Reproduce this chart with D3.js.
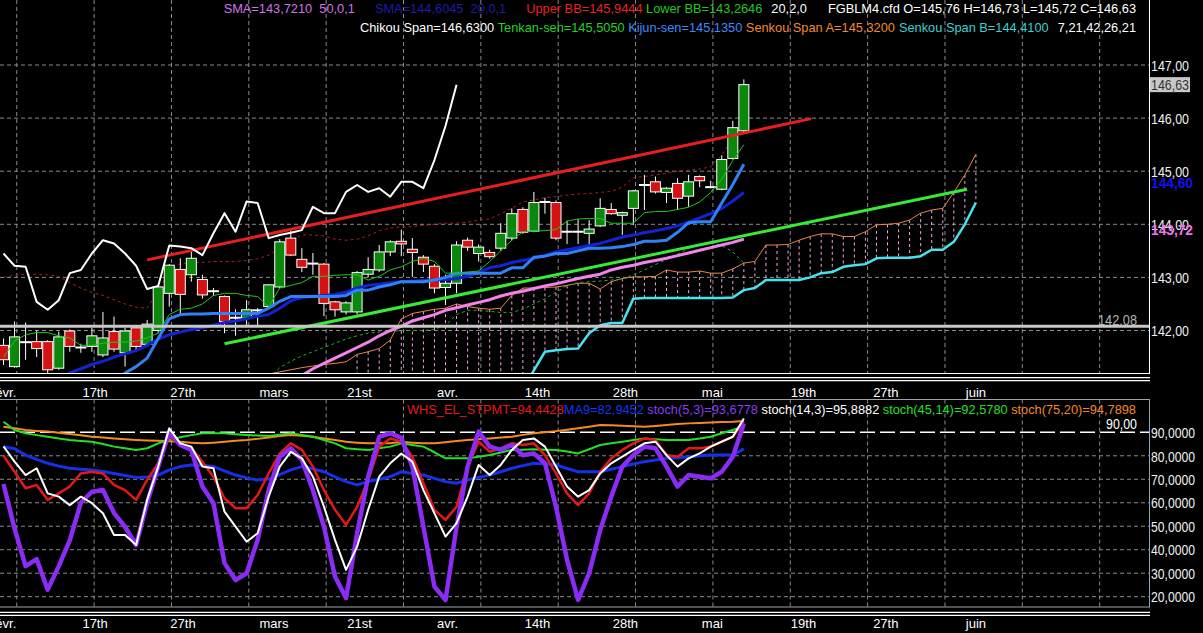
<!DOCTYPE html>
<html>
<head>
<meta charset="utf-8">
<script src="https://cdn.jsdelivr.net/npm/d3@7"></script>
<style>
html, body { margin: 0; padding: 0; background: #000; overflow: hidden; }
svg { display: block; }
text { font-family: "Liberation Sans", Arial, sans-serif; }
</style>
</head>
<body>
<div id="chart"></div>
<script>
const svgwidth = 1203;
const svgheight = 633;

// date labels under both panels (position in bar units)
const dateLabels = ["févr.", "17th", "27th", "mars", "21st", "avr.", "14th", "28th", "mai", "19th", "27th", "juin"];
const dateIdx = [0, 8.24, 16.2, 24.43, 32.17, 40.14, 48.28, 56.24, 64.1, 72.35, 79.8, 87.96];

const priceTicks = [142, 143, 144, 145, 146, 147];
const oscTicks = [20, 30, 40, 50, 60, 70, 80, 90];

// candles
const opens = [141.72, 141.32, 141.80, 141.79, 141.79, 141.29, 141.99, 141.66, 141.70, 141.54,
  141.98, 141.58, 142.05, 141.74, 142.00, 142.70, 143.15, 143.05, 142.96, 142.72,
  142.64, 142.22, 142.23, 142.36, 142.45, 142.82, 143.74, 143.34, 143.24, 143.25,
  142.54, 142.35, 142.35, 143.06, 143.14, 143.48, 143.68, 143.53, 143.38, 143.21,
  142.81, 142.89, 143.70, 143.45, 143.47, 143.55, 143.74, 144.28, 143.87, 144.40,
  144.41, 143.85, 143.85, 143.83, 143.97, 144.28, 144.17, 144.30, 144.73, 144.80,
  144.60, 144.77, 144.53, 144.90, 144.69, 144.66, 145.24, 145.76];
const highs = [141.85, 142.17, 142.15, 142.00, 141.82, 141.98, 142.02, 141.75, 142.05, 142.35,
  142.26, 142.05, 142.10, 142.20, 142.85, 143.25, 143.36, 143.52, 143.05, 142.80,
  142.66, 142.40, 142.57, 142.42, 142.87, 143.72, 143.93, 143.55, 143.46, 143.27,
  142.56, 142.55, 143.12, 143.38, 143.61, 143.70, 143.90, 143.74, 143.42, 143.25,
  143.05, 143.68, 143.75, 143.62, 143.52, 144.02, 144.30, 144.32, 144.61, 144.50,
  144.45, 144.07, 144.10, 144.08, 144.49, 144.40, 144.24, 144.65, 144.93, 144.90,
  144.70, 144.87, 144.93, 144.92, 144.82, 145.30, 145.95, 146.73];
const lows = [141.35, 141.30, 141.45, 141.50, 141.20, 141.26, 141.60, 141.58, 141.60, 141.50,
  141.60, 141.32, 141.60, 141.70, 141.95, 142.45, 142.30, 142.92, 142.60, 142.65,
  141.95, 141.90, 142.10, 142.10, 142.42, 142.80, 143.40, 143.10, 143.05, 142.27,
  142.26, 142.30, 142.30, 143.00, 143.10, 143.40, 143.40, 143.01, 143.10, 142.70,
  142.48, 142.70, 143.50, 143.30, 143.35, 143.50, 143.70, 143.82, 143.85, 144.20,
  143.70, 143.63, 143.63, 143.62, 143.95, 144.18, 143.80, 143.99, 144.27, 144.58,
  144.40, 144.27, 144.33, 144.70, 144.68, 144.64, 145.22, 145.72];
const closes = [141.45, 141.88, 141.78, 141.66, 141.26, 141.88, 141.70, 141.68, 141.90, 141.86,
  141.65, 141.99, 141.70, 142.12, 142.82, 143.23, 142.68, 143.36, 142.67, 142.74,
  142.17, 142.24, 142.39, 142.38, 142.86, 143.67, 143.42, 143.19, 143.26, 142.51,
  142.39, 142.52, 143.09, 143.15, 143.48, 143.67, 143.63, 143.47, 143.25, 142.80,
  142.89, 143.61, 143.57, 143.57, 143.39, 143.83, 144.20, 143.85, 144.41, 144.42,
  143.74, 143.86, 143.86, 143.91, 144.30, 144.20, 144.22, 144.63, 144.74, 144.61,
  144.68, 144.49, 144.80, 144.82, 144.70, 145.22, 145.82, 146.63];

// moving averages / bands
const sma20 = [null, null, null, null, null, 141.05, 141.20, 141.28, 141.36, 141.42,
  141.50, 141.56, 141.62, 141.72, 141.84, 141.92, 141.97, 142.02, 142.05, 142.10,
  142.15, 142.18, 142.22, 142.27, 142.30, 142.42, 142.56, 142.62, 142.64, 142.66,
  142.68, 142.72, 142.80, 142.85, 142.87, 142.90, 142.92, 142.93, 142.94, 142.95,
  142.96, 142.98, 143.02, 143.10, 143.18, 143.22, 143.28, 143.32, 143.36, 143.42,
  143.48, 143.52, 143.56, 143.60, 143.64, 143.70, 143.76, 143.80, 143.84, 143.88,
  143.92, 143.97, 144.04, 144.12, 144.20, 144.30, 144.44, 144.60];
const sma50 = [null, null, null, null, null, null, null, null, null, null,
  null, null, null, null, null, null, null, null, null, null,
  null, null, null, null, null, null, 141.00, 141.15, 141.28, 141.38,
  141.48, 141.58, 141.68, 141.78, 141.90, 142.00, 142.08, 142.18, 142.24, 142.30,
  142.38, 142.43, 142.48, 142.53, 142.58, 142.65, 142.70, 142.74, 142.79, 142.84,
  142.88, 142.93, 142.98, 143.02, 143.06, 143.14, 143.19, 143.23, 143.28, 143.32,
  143.36, 143.41, 143.46, 143.51, 143.56, 143.61, 143.66, 143.72];
const upperBB = [143.00, 143.04, 143.06, 143.06, 143.05, 143.02, 142.90, 142.80, 142.72, 142.66,
  142.58, 142.50, 142.44, 142.42, 142.75, 143.10, 143.26, 143.28, 143.28, 143.30,
  143.30, 143.30, 143.32, 143.35, 143.42, 143.55, 143.70, 143.80, 143.80, 143.78,
  143.72, 143.70, 143.72, 143.78, 143.88, 143.93, 143.95, 143.96, 143.98, 144.00,
  144.02, 144.02, 144.04, 144.08, 144.10, 144.20, 144.30, 144.42, 144.46, 144.50,
  144.52, 144.55, 144.57, 144.58, 144.60, 144.62, 144.70, 144.88, 144.90, 144.93,
  144.96, 145.00, 145.02, 145.04, 145.08, 145.30, 145.62, 145.94];
const lowerBB = [null, null, null, null, null, null, null, null, null, null,
  null, null, null, null, null, null, null, null, null, null,
  null, null, null, null, 141.10, 141.30, 141.42, 141.52, 141.60, 141.68,
  141.76, 141.84, 141.90, 141.95, 141.97, 141.98, 142.00, 142.00, 142.00, 142.02,
  142.10, 142.30, 142.38, 142.38, 142.36, 142.34, 142.34, 142.40, 142.50, 142.60,
  142.72, 142.85, 142.90, 142.92, 142.93, 142.95, 142.97, 143.05, 143.14, 143.24,
  143.34, 143.44, 143.54, 143.62, 143.65, 143.60, 143.48, 143.27];

// ichimoku
const tenkan = [141.50, 141.80, 141.92, 141.96, 141.96, 141.90, 141.86, 141.72, 141.72, 141.76,
  141.78, 141.78, 141.80, 141.86, 141.95, 142.30, 142.40, 142.42, 142.50, 142.66,
  142.70, 142.70, 142.66, 142.64, 142.45, 142.80, 142.85, 142.90, 143.02, 143.02,
  143.04, 143.05, 143.05, 142.95, 143.02, 143.14, 143.20, 143.30, 143.36, 143.30,
  143.08, 143.08, 143.10, 143.12, 143.30, 143.50, 143.70, 143.86, 143.87, 143.88,
  143.90, 144.06, 144.10, 144.11, 144.11, 144.02, 144.02, 144.02, 144.22, 144.24,
  144.24, 144.28, 144.32, 144.42, 144.60, 144.85, 145.20, 145.50];
const kijun = [null, null, null, null, null, null, null, null, null, null,
  141.00, 141.20, 141.32, 141.48, 141.85, 142.22, 142.30, 142.31, 142.31, 142.32,
  142.32, 142.32, 142.32, 142.32, 142.42, 142.55, 142.64, 142.64, 142.64, 142.64,
  142.64, 142.66, 142.76, 142.76, 142.82, 142.86, 142.92, 142.92, 142.92, 142.95,
  143.00, 143.08, 143.08, 143.08, 143.08, 143.08, 143.18, 143.18, 143.38, 143.40,
  143.45, 143.45, 143.50, 143.55, 143.55, 143.56, 143.58, 143.62, 143.68, 143.68,
  143.70, 143.85, 144.03, 144.05, 144.05, 144.40, 144.75, 145.13];
const chikou = [143.45, 143.22, 143.20, 142.54, 142.39, 142.57, 143.08, 143.14, 143.45, 143.70,
  143.64, 143.45, 143.22, 142.78, 142.84, 143.60, 143.58, 143.55, 143.42, 143.83,
  144.21, 143.86, 144.43, 144.40, 143.74, 143.80, 143.84, 143.89, 144.33, 144.21,
  144.21, 144.61, 144.74, 144.61, 144.68, 144.52, 144.80, 144.80, 144.68, 145.21,
  145.85, 146.63];
const senkouA = [null, null, null, null, null, null, null, null, null, null,
  null, null, null, null, null, null, null, null, null, null,
  null, null, null, 141.05, 141.18, 141.22, 141.26, 141.30, 141.33, 141.36,
  141.38, 141.41, 141.55, 141.60, 141.66, 141.82, 142.22, 142.32, 142.36, 142.40,
  142.42, 142.50, 142.45, 142.42, 142.40, 142.42, 142.66, 142.80, 142.80, 142.81,
  142.82, 142.85, 142.89, 142.89, 142.78, 142.92, 142.98, 143.01, 143.01, 143.02,
  143.14, 143.10, 143.10, 143.12, 143.08, 143.08, 143.16, 143.27, 143.30, 143.61,
  143.61, 143.62, 143.70, 143.77, 143.82, 143.82, 143.77, 143.77, 143.86, 143.99,
  144.00, 144.02, 144.08, 144.21, 144.27, 144.30, 144.60, 144.93, 145.32];
const senkouB = [null, null, null, null, null, null, null, null, null, null,
  null, null, null, null, null, null, null, null, null, null,
  null, null, null, null, null, null, null, null, null, null,
  null, null, null, null, null, null, null, null, null, null,
  null, null, null, null, null, null, null, 140.90, 141.25, 141.60,
  141.63, 141.65, 141.66, 141.95, 142.10, 142.14, 142.14, 142.60, 142.61, 142.61,
  142.61, 142.61, 142.61, 142.61, 142.61, 142.61, 142.62, 142.76, 142.80, 142.95,
  142.95, 142.95, 142.95, 143.00, 143.08, 143.10, 143.20, 143.23, 143.25, 143.36,
  143.37, 143.37, 143.37, 143.40, 143.52, 143.52, 143.67, 144.00, 144.41];

// hand drawn trend lines (bar, price)
const redTrend = [[13, 143.33], [73.1, 145.99]];
const greenTrend = [[20, 141.75], [87.2, 144.66]];
const supportLevel = 142.08;

// oscillator panel
const whs = [80, 73.2, 66.2, 67.6, 61.2, 64, 66.9, 72.5, 73.2, 72.5,
  67.6, 65.4, 61.2, 69.7, 76.8, 88.1, 84.6, 83.2, 77.5, 71.1,
  61.9, 57.7, 57.7, 63.3, 72.5, 81, 85.3, 82.5, 75.4, 65.4,
  57, 50.6, 58.3, 69.7, 83.9, 87.4, 86, 79.6, 68.3, 57,
  52.7, 58.3, 75.4, 86, 81.7, 83.2, 85.3, 84.6, 85.3, 80.3,
  72.5, 64, 59, 64, 73.2, 78.9, 82.5, 85.3, 87.4, 86.7,
  80.3, 79.6, 83.2, 83.2, 83.9, 86, 88.1, 94.4];
const ma9 = [83.9, 83, 80.3, 78.5, 76.8, 75.6, 74.7, 74.3, 74, 73.3,
  72.5, 71.6, 70.8, 71, 71.8, 74, 75.4, 76.1, 76, 75.4,
  73.6, 71.8, 70.6, 69.7, 70.1, 72, 74, 75.4, 74.5, 73.2,
  71, 69, 67.6, 69, 70, 71.1, 73.2, 72.5, 71.8, 70.4,
  69, 68.3, 69.7, 70.8, 71.8, 73.2, 74.7, 75.8, 76.8, 76.5,
  76.1, 74.6, 73.2, 73.2, 73.2, 74.3, 75.4, 76.5, 77.5, 78.2,
  78.9, 79.2, 79.6, 80, 80.3, 80.3, 80.3, 83];
const stoch53 = [68, 49, 33, 36, 23, 33, 44, 60, 64.7, 65.4,
  55.6, 49.8, 42, 60, 75.4, 90.3, 84.6, 82.5, 66.9, 59.8,
  34.3, 27.1, 30, 44.2, 65.4, 79.6, 83.2, 78.2, 65.4, 49.8,
  28.6, 19.4, 47, 71, 88.1, 89.6, 87.6, 75.4, 49.8, 24.3,
  18.6, 49.8, 75.4, 90.3, 83.9, 82.5, 84.6, 80.3, 81, 76.8,
  58.3, 35.7, 18.6, 30, 48.4, 62.6, 75.4, 80.3, 83.9, 83.2,
  75.4, 66.9, 71.8, 71.1, 70.4, 73.2, 79.6, 93.7];
const stoch143 = [84, 77.5, 71.8, 74.7, 64, 62.6, 59, 62.6, 59.8, 55.5,
  46.3, 46.3, 42, 61.2, 75.4, 91.7, 85.3, 83.9, 75.4, 74.7,
  56.2, 49.8, 43.4, 47, 62.6, 75.4, 81.7, 78.9, 71.1, 58.3,
  44.2, 31.4, 41.3, 57, 71.1, 76.8, 81, 77.5, 65.4, 55.5,
  45.6, 51.3, 62.6, 76.1, 71.8, 76.1, 82.5, 86.7, 87.4, 83.9,
  75.4, 66.9, 62.6, 65.4, 72.5, 76.8, 79.6, 82.5, 85.3, 86,
  80.3, 75.4, 78.9, 81, 83.9, 86, 88.1, 95.9];
const stoch4514 = [94.5, 91, 89.6, 88.8, 88.1, 87.4, 86.7, 86.3, 86, 85,
  83.9, 83.2, 82.5, 83.2, 85.3, 86.7, 87.9, 88.8, 89.6, 89.6,
  89.6, 89.2, 88.9, 88.6, 88.4, 89, 89.6, 88.9, 88.1, 86.7,
  85.3, 83.2, 82.8, 82.5, 83.2, 83.9, 85.3, 84.6, 83.9, 81.5,
  78.9, 78.9, 78.9, 79.6, 80.3, 81.4, 82.5, 82.6, 82.8, 82.6,
  82.5, 81.8, 81, 82.8, 84.6, 85.3, 86, 86.7, 87.4, 87,
  86.7, 86.7, 86.7, 87.4, 88.1, 89.6, 91, 92.6];
const stoch7520 = [92.4, 91.7, 91, 90.6, 90.3, 89.8, 89.3, 88.7, 88.1, 87.8,
  87.4, 87, 86.7, 86.5, 86.4, 86.2, 86, 85.6, 85.3, 85.6,
  86, 86.4, 86.7, 87.2, 87.8, 88.4, 88.9, 88.5, 88.1, 87.4,
  86.7, 86, 85.6, 85.3, 85.3, 85.3, 86, 85.6, 85.3, 85.3,
  85.8, 86.3, 86.7, 87, 87.4, 87.8, 88.1, 88.9, 89.6, 90,
  90.5, 91.1, 91.7, 92.4, 93.1, 93, 92.8, 92.6, 92.4, 92.7,
  93.1, 93.5, 93.8, 94, 94.2, 94.4, 94.5, 94.8];
const oscLevel = 90;

// legends
const legendTop1 = [
  {text: "SMA=143,7210  50,0,1", color: "#d473e6", gap: 0},
  {text: "SMA=144,6045  20,0,1", color: "#1c1ca8", gap: 20},
  {text: "Upper BB=145,9444", color: "#e82020", gap: 20},
  {text: "Lower BB=143,2646", color: "#22c822", gap: 3.5},
  {text: "20,2,0", color: "#ffffff", gap: 9},
  {text: "FGBLM4.cfd O=145,76 H=146,73 L=145,72 C=146,63", color: "#ffffff", gap: 21}
];
const legendTop2 = [
  {text: "Chikou Span=146,6300", color: "#ffffff", gap: 0},
  {text: "Tenkan-sen=145,5050", color: "#22d422", gap: 3.5},
  {text: "Kijun-sen=145,1350", color: "#3a8cff", gap: 3.5},
  {text: "Senkou Span A=145,3200", color: "#f08a30", gap: 3.5},
  {text: "Senkou Span B=144,4100", color: "#38d0d0", gap: 4},
  {text: "7,21,42,26,21", color: "#ffffff", gap: 9}
];
const legendOsc = [
  {text: "WHS_EL_STPMT=94,4428", color: "#e41818", gap: 0},
  {text: "MA9=82,9452", color: "#1434f0", gap: 0},
  {text: "stoch(5,3)=93,6778", color: "#8a3cf0", gap: 3.5},
  {text: "stoch(14,3)=95,8882", color: "#ffffff", gap: 3.5},
  {text: "stoch(45,14)=92,5780", color: "#22e022", gap: 3.5},
  {text: "stoch(75,20)=94,7898", color: "#f08a20", gap: 3.5}
];

// ---------- layout ----------
const plotRight = 1149;
const mainTop = 0, mainBottom = 373;
const oscTop = 399.5, oscBottom = 607;

const svg = d3.select("#chart").append("svg")
  .attr("width", svgwidth)
  .attr("height", svgheight);

const defs = svg.append("defs");
defs.append("clipPath").attr("id", "clipMain").append("rect")
  .attr("x", 0).attr("y", mainTop).attr("width", plotRight).attr("height", mainBottom - mainTop);
defs.append("clipPath").attr("id", "clipOsc").append("rect")
  .attr("x", 0).attr("y", oscTop).attr("width", plotRight).attr("height", oscBottom - oscTop);

// bar index -> pixel
const x = d3.scaleLinear().domain([0, 100]).range([3.5, 3.5 + 1105]);
const y = d3.scaleLinear().domain([142, 147]).range([330.5, 65]);
const yo = d3.scaleLinear().domain([20, 90]).range([596.7, 432.3]);

const comma = (v, n) => v.toFixed(n).replace(".", ",");
const gridIdx = d3.range(15).map(k => 1.2 + 7 * k);
const gridColor = "#8a8a8a";

const main = svg.append("g").attr("clip-path", "url(#clipMain)");
const osc = svg.append("g").attr("clip-path", "url(#clipOsc)");

// grid
main.selectAll(".vg").data(gridIdx).enter().append("line")
  .attr("x1", d => x(d)).attr("x2", d => x(d))
  .attr("y1", mainTop).attr("y2", mainBottom)
  .attr("stroke", gridColor).attr("stroke-dasharray", "4,3");
main.selectAll(".hg").data(priceTicks).enter().append("line")
  .attr("x1", 0).attr("x2", plotRight)
  .attr("y1", d => y(d)).attr("y2", d => y(d))
  .attr("stroke", gridColor).attr("stroke-dasharray", "4,3");
osc.selectAll(".vg").data(gridIdx).enter().append("line")
  .attr("x1", d => x(d)).attr("x2", d => x(d))
  .attr("y1", oscTop).attr("y2", oscBottom)
  .attr("stroke", gridColor).attr("stroke-dasharray", "4,3");
osc.selectAll(".hg").data(oscTicks.filter(d => d !== oscLevel)).enter().append("line")
  .attr("x1", 0).attr("x2", plotRight)
  .attr("y1", d => yo(d)).attr("y2", d => yo(d))
  .attr("stroke", gridColor).attr("stroke-dasharray", "4,3");

// line helpers
function drawLine(g, values, scaleY, color, width, dash) {
  const line = d3.line()
    .defined(d => d != null)
    .x((d, i) => x(i))
    .y(d => scaleY(d));
  const p = g.append("path").datum(values)
    .attr("d", line)
    .attr("fill", "none")
    .attr("stroke", color)
    .attr("stroke-width", width)
    .attr("stroke-linejoin", "round");
  if (dash) p.attr("stroke-dasharray", dash);
  return p;
}

// cloud hatching
const cloudIdx = d3.range(32, senkouA.length).filter(i => senkouA[i] != null);
main.selectAll(".cloud").data(cloudIdx).enter().append("line")
  .attr("x1", i => x(i)).attr("x2", i => x(i))
  .attr("y1", i => y(senkouA[i]))
  .attr("y2", i => senkouB[i] == null ? mainBottom : Math.min(y(senkouB[i]), mainBottom))
  .attr("stroke", "#f5a3e4").attr("stroke-dasharray", "3,3");

drawLine(main, senkouA, y, "#e8854a", 1);
drawLine(main, senkouB, y, "#45e3f0", 2.5);
drawLine(main, upperBB, y, "#b01c1c", 1, "3,3");
drawLine(main, lowerBB, y, "#22b022", 1, "3,3");

// candles
const bars = d3.range(closes.length).map(i => ({i: i, o: opens[i], h: highs[i], l: lows[i], c: closes[i]}));
const bw = 10;
const cg = main.append("g");
cg.selectAll(".wick").data(bars).enter().append("line")
  .attr("x1", d => x(d.i)).attr("x2", d => x(d.i))
  .attr("y1", d => y(d.h)).attr("y2", d => y(d.l))
  .attr("stroke", "#ffffff").attr("stroke-width", 1);
cg.selectAll(".body").data(bars.filter(d => Math.abs(d.o - d.c) > 0.03)).enter().append("rect")
  .attr("x", d => x(d.i) - bw / 2)
  .attr("y", d => y(Math.max(d.o, d.c)))
  .attr("width", bw)
  .attr("height", d => Math.abs(y(d.o) - y(d.c)))
  .attr("fill", d => d.c > d.o ? "#0b870b" : "#d41212")
  .attr("stroke", "#ffffff").attr("stroke-width", 1);
cg.selectAll(".doji").data(bars.filter(d => Math.abs(d.o - d.c) <= 0.03)).enter().append("line")
  .attr("x1", d => x(d.i) - bw / 2 - 0.5).attr("x2", d => x(d.i) + bw / 2 + 0.5)
  .attr("y1", d => y(d.c)).attr("y2", d => y(d.c))
  .attr("stroke", "#ffffff").attr("stroke-width", 2);

drawLine(main, sma50, y, "#f283ea", 3);
drawLine(main, sma20, y, "#1422d2", 3);
drawLine(main, kijun, y, "#2f82f5", 3);
drawLine(main, tenkan, y, "#22c422", 1);

// trend lines
[[redTrend, "#e61e1e"], [greenTrend, "#36ea36"]].forEach(([pts, col]) => {
  main.append("line")
    .attr("x1", x(pts[0][0])).attr("y1", y(pts[0][1]))
    .attr("x2", x(pts[1][0])).attr("y2", y(pts[1][1]))
    .attr("stroke", col).attr("stroke-width", 3);
});

drawLine(main, chikou, y, "#ffffff", 2);

main.append("line")
  .attr("x1", 0).attr("x2", plotRight)
  .attr("y1", y(supportLevel)).attr("y2", y(supportLevel))
  .attr("stroke", "#c8c8c8").attr("stroke-width", 3);

// oscillator
osc.append("line")
  .attr("x1", 0).attr("x2", plotRight)
  .attr("y1", yo(oscLevel)).attr("y2", yo(oscLevel))
  .attr("stroke", "#ffffff").attr("stroke-width", 1.5).attr("stroke-dasharray", "15,5");
drawLine(osc, stoch7520, yo, "#f58a1e", 2);
drawLine(osc, stoch4514, yo, "#22e022", 2);
drawLine(osc, ma9, yo, "#1430e8", 3);
drawLine(osc, whs, yo, "#e41818", 2.5);
drawLine(osc, stoch53, yo, "#8a2cf5", 4.5);
drawLine(osc, stoch143, yo, "#ffffff", 2);

// frames
svg.append("line").attr("x1", plotRight + 0.5).attr("x2", plotRight + 0.5)
  .attr("y1", 0).attr("y2", mainBottom).attr("stroke", "#ffffff");
svg.append("line").attr("x1", 0).attr("x2", plotRight + 1)
  .attr("y1", mainBottom + 0.5).attr("y2", mainBottom + 0.5).attr("stroke", "#ffffff");
[377.7, 380.7, 612.3, 615.3].forEach(v => {
  svg.append("line").attr("x1", 0).attr("x2", plotRight + 1)
    .attr("y1", v).attr("y2", v).attr("stroke", "#ffffff").attr("stroke-width", 1.3);
});
svg.append("rect").attr("x", -1).attr("y", oscTop)
  .attr("width", plotRight + 1.5).attr("height", oscBottom - oscTop)
  .attr("fill", "none").attr("stroke", "#9aa4ae");

// right axes
const axP = svg.append("g")
  .attr("transform", `translate(${plotRight}, 0)`)
  .call(d3.axisRight(y).tickValues(priceTicks).tickSize(0).tickPadding(2).tickFormat(d => comma(d, 2)));
const axO = svg.append("g")
  .attr("transform", `translate(${plotRight}, 0)`)
  .call(d3.axisRight(yo).tickValues(oscTicks).tickSize(0).tickPadding(2).tickFormat(d => comma(d, 4)));
[[axP, 38, 15], [axO, 44, 14.5]].forEach(([ax, len, fs]) => {
  ax.select(".domain").remove();
  ax.attr("font-family", null).attr("font-size", fs);
  ax.selectAll("text").attr("fill", "#f0f0f0").attr("dy", "0.36em")
    .attr("textLength", len).attr("lengthAdjust", "spacingAndGlyphs");
});

// value tags on the price axis
const lastClose = closes[closes.length - 1];
svg.append("rect").attr("x", plotRight + 1).attr("y", y(lastClose) - 7.5)
  .attr("width", 40).attr("height", 15).attr("fill", "#c8c8c8");
svg.append("text").attr("x", plotRight + 2).attr("y", y(lastClose) + 5.5)
  .attr("font-size", 15).attr("fill", "#333333")
  .attr("textLength", 38).attr("lengthAdjust", "spacingAndGlyphs")
  .text(comma(lastClose, 2));
[[sma20[sma20.length - 1], "#1212f0"], [sma50[sma50.length - 1], "#ee74ee"]].forEach(([v, col]) => {
  svg.append("text").attr("x", plotRight + 2).attr("y", y(v) - 4)
    .attr("font-size", 15).attr("font-weight", "bold").attr("fill", col)
    .attr("textLength", 42).attr("lengthAdjust", "spacingAndGlyphs")
    .text(comma(v, 2));
});
svg.append("text").attr("x", 1137).attr("y", y(supportLevel) - 1.5)
  .attr("text-anchor", "end").attr("font-size", 15).attr("fill", "#b4b4b4")
  .attr("textLength", 39).attr("lengthAdjust", "spacingAndGlyphs")
  .text(comma(supportLevel, 2));
svg.append("text").attr("x", 1137).attr("y", yo(oscLevel) - 3)
  .attr("text-anchor", "end").attr("font-size", 14).attr("fill", "#ffffff")
  .attr("textLength", 31).attr("lengthAdjust", "spacingAndGlyphs")
  .text(comma(oscLevel, 2));

// date axes
[387.5, 618.8].forEach(ty => {
  const ax = svg.append("g")
    .attr("transform", `translate(0, ${ty})`)
    .call(d3.axisBottom(x).tickValues(dateIdx).tickSize(0).tickPadding(0)
      .tickFormat((d, i) => dateLabels[i]));
  ax.select(".domain").remove();
  ax.attr("font-family", null).attr("font-size", 13);
  ax.selectAll("text").attr("fill", "#ffffff");
});

// legends, laid out right to left
function legendRow(items, yBase, xRight) {
  let xr = xRight;
  for (let k = items.length - 1; k >= 0; k--) {
    const it = items[k];
    const t = svg.append("text")
      .attr("y", yBase)
      .attr("font-size", 12.8)
      .attr("fill", it.color)
      .style("white-space", "pre")
      .text(it.text);
    xr -= t.node().getComputedTextLength();
    t.attr("x", xr);
    xr -= it.gap;
  }
}
legendRow(legendTop1, 13, 1136);
legendRow(legendTop2, 31.5, 1136);
legendRow(legendOsc, 414, 1136);
</script>
</body>
</html>
